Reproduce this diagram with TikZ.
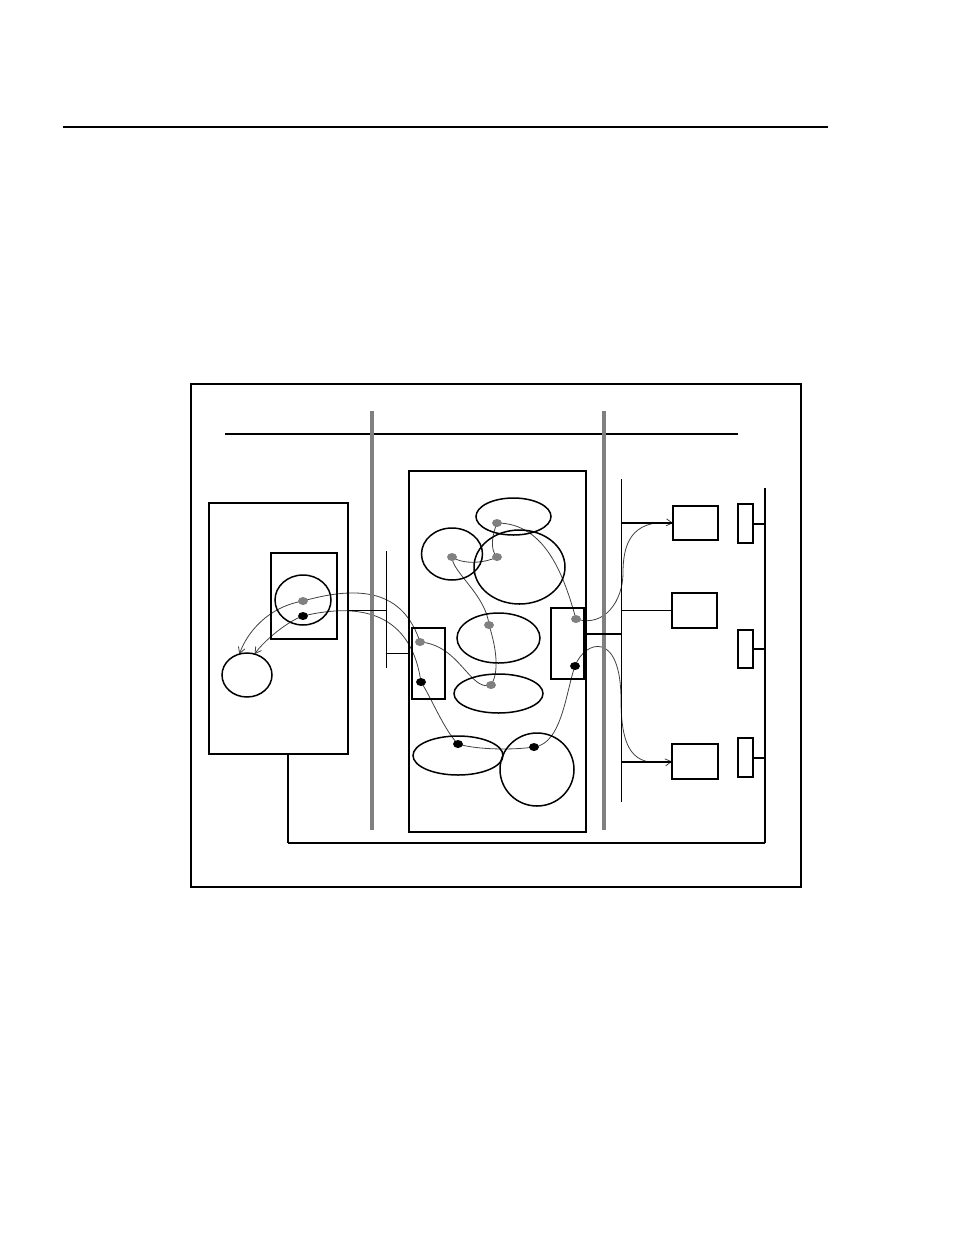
\documentclass[tikz,border=0pt]{standalone}
\usetikzlibrary{shapes.geometric,calc,backgrounds,arrows.meta}
\begin{document}
\begin{tikzpicture}[x=1pt,y=-1pt,
 box/.style={draw, line width=1.6pt, rectangle, inner sep=0pt, outer sep=0pt},
 bubble/.style={draw, line width=1.5pt, ellipse, inner sep=0pt, outer sep=0pt},
 gdot/.style={fill=gray, ellipse, minimum width=10pt, minimum height=8pt, inner sep=0pt},
 kdot/.style={fill=black, ellipse, minimum width=10pt, minimum height=8pt, inner sep=0pt},
 conn/.style={draw=black!75, line width=0.8pt},
 arr/.style={conn, -{Straight Barb[length=6pt,width=7pt]}},
 bar/.style={draw=gray, line width=4.5pt},
 thinline/.style={line width=1pt},
 thickline/.style={line width=2pt}]
\useasboundingbox (0,0) rectangle (954,1235);

% top rule
\coordinate (rl) at (63,127); \coordinate (rr) at (828,127);
\draw[line width=2pt] (rl) -- (rr);

% frame
\node[box, line width=1.5pt, minimum width=610pt, minimum height=503pt] (frame) at (496,635.5) {};
\coordinate (hl) at (225,434); \coordinate (hr) at (738,434);
\draw[line width=1.1pt] (hl) -- (hr);

% gray separator bars
\coordinate (bar1t) at (372,411); \coordinate (bar1b) at (372,830);
\coordinate (bar2t) at (604,411); \coordinate (bar2b) at (604,830);
\draw[bar] (bar1t) -- (bar1b);
\draw[bar] (bar2t) -- (bar2b);

% left part
\node[box, minimum width=139pt, minimum height=251pt] (lbox) at (278.5,628.5) {};
\node[box, minimum width=66pt, minimum height=86pt] (ibox) at (304,596) {};
\node[bubble, minimum width=56pt, minimum height=50pt] (lc) at (303,600) {};
\node[bubble, minimum width=50pt, minimum height=44pt] (sc) at (247,675) {};

% left thin bus
\coordinate (lvt) at (386,551); \coordinate (lvb) at (386,668);
\draw[thinline] (lvt) -- (lvb);
\coordinate (tA) at (0,610); \coordinate (tB) at (0,653);

% middle part
\node[box, minimum width=177pt, minimum height=361pt] (mbox) at (497.5,651.5) {};
\node[box, minimum width=33pt, minimum height=71pt] (sl) at (428.5,663.5) {};
\node[box, minimum width=33pt, minimum height=71pt] (sr) at (567.5,643.5) {};
\node[bubble, minimum width=75pt, minimum height=37pt] (e1) at (513.5,516.5) {};
\node[bubble, minimum width=61pt, minimum height=52pt] (e2) at (452,554) {};
\node[bubble, minimum width=91pt, minimum height=74pt] (e3) at (519.5,567) {};
\node[bubble, minimum width=83pt, minimum height=50pt] (e4) at (498.5,638) {};
\node[bubble, minimum width=89pt, minimum height=39pt] (e5) at (498.5,693.5) {};
\node[bubble, minimum width=90pt, minimum height=39pt] (e6) at (458,755.5) {};
\node[bubble, minimum width=74pt, minimum height=73pt] (e7) at (537,769.5) {};

\draw[thinline] (lbox.east |- tA) -- (lvt |- tA);
\draw[thinline] (lvt |- tB) -- (mbox.west |- tB);

% right part
\coordinate (rvt) at (621,479); \coordinate (rvb) at (621,802);
\draw[thinline] (rvt) -- (rvb);
\coordinate (tC) at (0,634);
\draw[thickline] (mbox.east |- tC) -- (rvt |- tC);

\node[box, line width=1.5pt, minimum width=45pt, minimum height=34pt] (r1) at (695.5,523) {};
\node[box, line width=1.8pt, minimum width=45pt, minimum height=35pt] (r2) at (694.5,610.5) {};
\node[box, line width=1.5pt, minimum width=46pt, minimum height=35pt] (r3) at (695,761.5) {};
\draw[thickline] (rvt |- r1.west) -- (r1.west);
\draw[thinline] (rvt |- r2.west) -- (r2.west);
\draw[thickline] (rvt |- r3.west) -- (r3.west);

\node[box, line width=1.4pt, minimum width=15pt, minimum height=39pt] (t1) at (745.5,523.5) {};
\node[box, line width=1.4pt, minimum width=15pt, minimum height=38pt] (t2) at (745.5,649) {};
\node[box, line width=1.4pt, minimum width=15pt, minimum height=39pt] (t3) at (745.5,757.5) {};

\coordinate (bust) at (765,488); \coordinate (busb) at (765,843);
\draw[thickline] (bust) -- (busb);
\draw[thickline] (t1.east) -- (t1.east -| bust);
\draw[thickline] (t2.east) -- (t2.east -| bust);
\draw[thickline] (t3.east) -- (t3.east -| bust);

\coordinate (bx) at (288,0);
\draw[line width=1.2pt] (lbox.south -| bx) -- (bx |- busb);
\draw[thickline] (bx |- busb) -- (busb);

% dots
\node[gdot] (g0) at (303,601) {};
\node[kdot] (k0) at (303,616) {};
\node[gdot] (g6) at (420,642) {};
\node[kdot] (k1) at (421,682) {};
\node[gdot] (g5) at (491,685) {};
\node[gdot] (g4) at (489,625) {};
\node[gdot] (g2) at (452,557) {};
\node[gdot] (g3) at (497,557) {};
\node[gdot] (g1) at (497,523) {};
\node[gdot] (g7) at (576,619) {};
\node[kdot] (k2) at (575,666) {};
\node[kdot] (k3) at (458,744) {};
\node[kdot] (k4) at (534,747) {};

% connectors
\begin{scope}[on background layer]
% gray route
\draw[arr] (g0.center) .. controls ($(g0)+(-35,6)$) and ($(sc.110)+(8,-22)$) .. (sc.110);
\draw[conn] (g0.center) .. controls ($(g0)+(57,-16)$) and ($(g6)+(-17,-52)$) .. (g6.center);
\draw[conn] (g6.center) .. controls ($(g6)+(40,3)$) and ($(g5)+(-21,7)$) .. (g5.center);
\draw[conn] (g5.center) .. controls ($(g5)+(8,-12)$) and ($(g4)+(8,25)$) .. (g4.center);
\draw[conn] (g4.center) .. controls ($(g4)+(-3,-30)$) and ($(g2)+(0,15)$) .. (g2.center);
\draw[conn] (g2.center) .. controls ($(g2)+(12,8)$) and ($(g3)+(-12,6)$) .. (g3.center);
\draw[conn] (g3.center) .. controls ($(g3)+(-8,-8)$) and ($(g1)+(-4,10)$) .. (g1.center);
\draw[conn] (g1.center) .. controls ($(g1)+(50,0)$) and ($(g7)+(-11,-39)$) .. (g7.center);
\draw[arr] (g7.center) .. controls ($(g7)+(29,9)$) and ($(g7)+(47,-19)$) .. ($(g7)+(47,-46)$)
  .. controls ($(g7)+(47,-73)$) and ($(r1.west)+(-43,-4)$) .. (r1.west);
% black route
\draw[arr] (k0.center) .. controls ($(k0)+(-15,5)$) and ($(sc.70)+(10,-14)$) .. (sc.70);
\draw[conn] (k0.center) .. controls ($(k0)+(67,-16)$) and ($(k1)+(-9,-62)$) .. (k1.center);
\draw[conn] (k1.center) .. controls ($(k1)+(10,15)$) and ($(k3)+(-14,-14)$) .. (k3.center);
\draw[conn] (k3.center) .. controls ($(k3)+(20,6)$) and ($(k4)+(-20,3)$) .. (k4.center);
\draw[conn] (k4.center) .. controls ($(k4)+(28,-3)$) and ($(k2)+(-9,25)$) .. (k2.center);
\draw[arr] (k2.center) .. controls ($(k2)+(10,-26)$) and ($(k2)+(46,-36)$) .. ($(k2)+(46,34)$)
  .. controls ($(k2)+(46,94)$) and ($(r3.west)+(-32,4)$) .. (r3.west);
\end{scope}
\end{tikzpicture}
\end{document}
